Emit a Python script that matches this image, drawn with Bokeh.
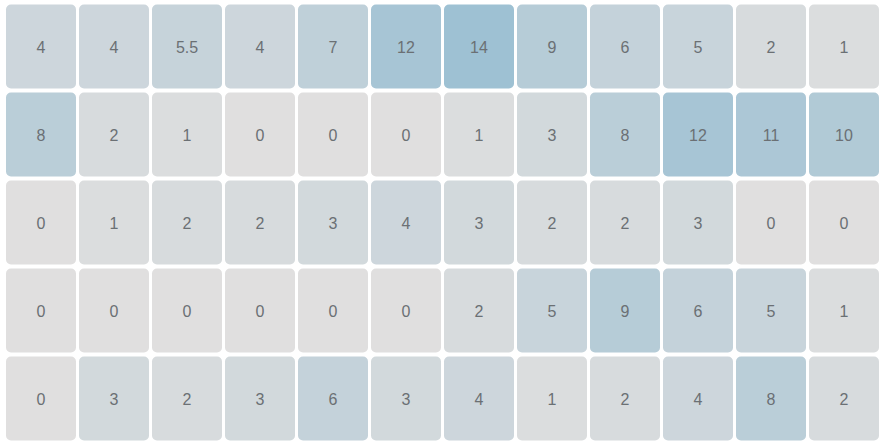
from bokeh.plotting import figure
from bokeh.models import ColumnDataSource, LinearColorMapper, Range1d
from bokeh.transform import transform
from bokeh.core.properties import value
from bokeh.embed import file_html
from bokeh.resources import INLINE

row1 = [4, 4, 5.5, 4, 7, 12, 14, 9, 6, 5, 2, 1]
row2 = [8, 2, 1, 0, 0, 0, 1, 3, 8, 12, 11, 10]
row3 = [0, 1, 2, 2, 3, 4, 3, 2, 2, 3, 0, 0]
row4 = [0, 0, 0, 0, 0, 0, 2, 5, 9, 6, 5, 1]
row5 = [0, 3, 2, 3, 6, 3, 4, 1, 2, 4, 8, 2]
rows = [row1, row2, row3, row4, row5]

xs, ys, vals, labels = [], [], [], []
for r, row in enumerate(rows):
    for c, v in enumerate(row):
        xs.append(c + 0.5)
        ys.append(r + 0.5)
        vals.append(v)
        labels.append(("%g" % v))

src = ColumnDataSource(dict(x=xs, y=ys, v=vals, label=labels))

# palette from light gray to soft blue
lo = (224, 223, 223)
hi = (158, 193, 211)
palette = []
n = 256
for i in range(n):
    t = i / (n - 1)
    rgb = tuple(round(lo[k] + (hi[k] - lo[k]) * t) for k in range(3))
    palette.append("#%02x%02x%02x" % rgb)
mapper = LinearColorMapper(palette=palette, low=0, high=14)

p = figure(width=881, height=445, output_backend="svg", toolbar_location=None,
           x_range=Range1d(0, 12), y_range=Range1d(5, 0),
           min_border_left=4, min_border_right=1, min_border_top=2, min_border_bottom=3)
p.axis.visible = False
p.grid.visible = False
p.outline_line_color = None
p.background_fill_color = "white"
p.border_fill_color = "white"

p.rect(x="x", y="y", width=70, height=84, width_units="screen", height_units="screen",
       source=src, fill_color=transform("v", mapper), line_color=None, border_radius=5)
p.text(x="x", y="y", text="label", source=src, text_align="center", text_baseline="middle",
       text_font=value("Liberation Sans"), text_font_size="16px", text_color="#6b7074")

open("out.html", "w").write(file_html(p, INLINE))
